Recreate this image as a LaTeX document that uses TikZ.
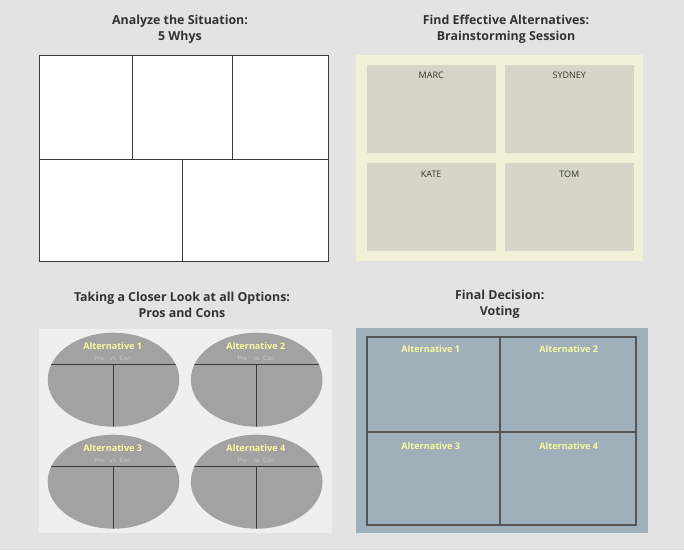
\documentclass[tikz,border=0pt]{standalone}
\usepackage{fontspec}
\setmainfont{Open Sans}
\definecolor{bgc}{HTML}{E3E3E3}
\definecolor{titlec}{HTML}{333333}
\definecolor{linec}{HTML}{3A3A3A}
\definecolor{creamc}{HTML}{F1F1D8}
\definecolor{boxc}{HTML}{D6D6C8}
\definecolor{pcbg}{HTML}{EFEFEF}
\definecolor{ellc}{HTML}{A2A2A2}
\definecolor{votec}{HTML}{9FB0BB}
\definecolor{votel}{HTML}{555555}
\definecolor{yelc}{HTML}{FAFA9E}
\definecolor{provc}{HTML}{D2D2D2}
\tikzset{
  ttl/.style={font=\fontsize{12.4}{16}\selectfont\bfseries, text=titlec, align=center, inner sep=0pt},
  namelbl/.style={font=\fontsize{9}{10}\selectfont, text=titlec, inner sep=0pt},
  altlbl/.style={font=\fontsize{9.1}{10}\selectfont\bfseries, text=yelc, inner sep=0pt},
  provs/.style={font=\fontsize{6}{7}\selectfont, text=provc, inner sep=0pt},
  whyline/.style={draw=linec, line width=0.9pt},
  voteline/.style={draw=votel, line width=1.7pt},
  pcline/.style={draw=linec, line width=1pt},
}
\begin{document}
\begin{tikzpicture}[x=1pt,y=-1pt]
\fill[bgc] (0,0) rectangle (684,550);
\useasboundingbox (0,0) rectangle (684,550);

% ---------- Panel 1: 5 Whys ----------
\node[ttl] (t1) at (180,29) {Analyze the Situation:\\5 Whys};
\fill[white] (39,55) rectangle (328,261);
\draw[whyline] (39,55) rectangle (328,261);
\draw[whyline] (39,159) -- (328,159);
\draw[whyline] (132.3,55) -- (132.3,159);
\draw[whyline] (232.7,55) -- (232.7,159);
\draw[whyline] (182,159) -- (182,261);

% ---------- Panel 2: Brainstorming ----------
\node[ttl] (t2) at (506,29) {Find Effective Alternatives:\\Brainstorming Session};
\fill[creamc] (356,55) rectangle (643,261);
\fill[boxc] (366.7,65) rectangle (495.7,153);
\fill[boxc] (505,65) rectangle (633.7,153);
\fill[boxc] (366.7,163) rectangle (495.7,250.7);
\fill[boxc] (505,163) rectangle (633.7,250.7);
\node[namelbl] (marc) at (431.2,75.5) {MARC};
\node[namelbl] (sydney) at (569.3,75.5) {SYDNEY};
\node[namelbl] (kate) at (431.2,174.5) {KATE};
\node[namelbl] (tom) at (569.3,174.5) {TOM};

% ---------- Panel 3: Pros and Cons ----------
\node[ttl] (t3) at (182,304.5) {Taking a Closer Look at all Options:\\Pros and Cons};
\fill[pcbg] (39,329.3) rectangle (331.7,533.3);
\foreach \cx/\cy/\n in {113.5/379.7/1, 256.7/379.7/2, 113.5/481.7/3, 256.7/481.7/4}{
  \fill[ellc] (\cx,\cy) ellipse [x radius=65.8, y radius=47];
  \begin{scope}
    \clip (\cx,\cy) ellipse [x radius=65.8, y radius=47];
    \draw[pcline] (\cx-70,\cy-15.4) -- (\cx+70,\cy-15.4);
    \draw[pcline] (\cx,\cy-15.4) -- (\cx,\cy+50);
  \end{scope}
  \node[altlbl] (pa\n) at (\cx-0.8,\cy-34) {Alternative \n};
  \node[provs] (pv\n) at (\cx-0.8,\cy-21) {Pro\hspace{6pt}vs\hspace{4pt}Con};
}

% ---------- Panel 4: Voting ----------
\node[ttl] (t4) at (499.7,304.5) {Final Decision:\\Voting};
\fill[votec] (356,328.3) rectangle (647.7,533.3);
\draw[voteline] (367.3,337.3) rectangle (636,525);
\draw[voteline] (500,337.3) -- (500,525);
\draw[voteline] (367.3,431.7) -- (636,431.7);
\node[altlbl] (va1) at (430.7,348.7) {Alternative 1};
\node[altlbl] (va2) at (568.7,348.7) {Alternative 2};
\node[altlbl] (va3) at (430.7,446) {Alternative 3};
\node[altlbl] (va4) at (568.7,446) {Alternative 4};
\end{tikzpicture}
\end{document}
